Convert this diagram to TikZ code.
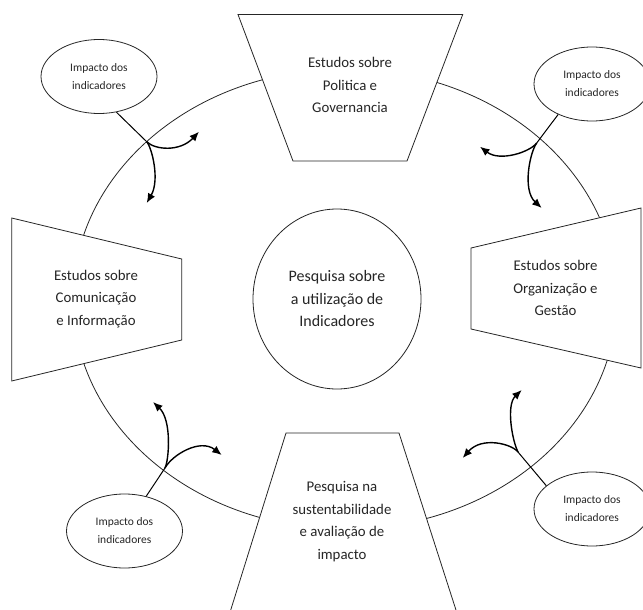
\documentclass[tikz,border=0pt]{standalone}
\usepackage{fontspec}
\setmainfont{Carlito}
\usetikzlibrary{shapes.geometric,arrows.meta}
\begin{document}
\begin{tikzpicture}[x=1pt,y=-1pt,
  outline/.style={draw=black!85, line width=0.8pt},
  block/.style={outline, fill=white, line join=miter},
  caption/.style={align=center, font=\fontsize{14.8}{22.5}\selectfont, text=black!85},
  hub/.style={outline, ellipse, fill=white, minimum width=168pt, minimum height=180pt,
    inner sep=0pt, align=center, font=\fontsize{16}{22.5}\selectfont, text=black!85},
  impact/.style={outline, ellipse, fill=white, minimum width=116pt, minimum height=74pt,
    inner sep=0pt, align=center, font=\fontsize{11.5}{18}\selectfont, text=black!85},
  stem/.style={draw=black, line width=1pt},
  flow/.style={draw=black, line width=1.4pt, -{Latex[length=9.5pt,width=8pt]}},
]
\useasboundingbox (0,0) rectangle (643,610);
\begin{scope}
  \clip (0,0) rectangle (643,610);
  % outer ring
  \draw[outline] (345,299) ellipse [x radius=272pt, y radius=230pt];
  % four trapezoid blocks
  \draw[block] (238,14.5) -- (462.7,14.5) -- (407,161) -- (293,161) -- cycle;
  \draw[block] (11.7,218) -- (181.7,259) -- (181.7,340) -- (11.7,381) -- cycle;
  \draw[block] (471,248) -- (641,208) -- (641,368) -- (471,329) -- cycle;
  \draw[block] (286,433) -- (399,433) -- (459.2,620) -- (227.6,620) -- cycle;
\end{scope}

\node[caption] (politica) at (350,85) {Estudos sobre\\Politica e\\Governancia};
\node[caption] (comunicacao) at (96,299) {Estudos sobre\\Comunicação\\e Informação};
\node[caption] (organizacao) at (555.5,288) {Estudos sobre\\Organização e\\Gestão};
\node[caption] (sustentabilidade) at (342,521.5) {Pesquisa na\\sustentabilidade\\e avaliação de\\impacto};

\node[hub] (centro) at (337,299) {Pesquisa sobre\\a utilização de\\Indicadores};

% impact bubbles
\begin{scope}
  \clip (0,0) rectangle (643,610);
  \node[impact] (imptl) at (99,76.5) {Impacto dos\\indicadores};
  \node[impact] (imptr) at (592,84) {Impacto dos\\indicadores};
  \node[impact] (impbl) at (124.5,531) {Impacto dos\\indicadores};
  \node[impact] (impbr) at (592,509) {Impacto dos\\indicadores};
\end{scope}

% branch points and arrow ends
\coordinate (btl) at (146.7,141.7);
\coordinate (btr) at (536.7,143);
\coordinate (bbl) at (165,468);
\coordinate (bbr) at (518,452);
\coordinate (tl1) at (199,131.7);
\coordinate (tl2) at (146.7,203);
\coordinate (tr1) at (480,146.7);
\coordinate (tr2) at (541.7,208);
\coordinate (bl1) at (153,402);
\coordinate (bl2) at (221.7,455);
\coordinate (br1) at (521.7,390);
\coordinate (br2) at (462.7,458);

% stems
\draw[stem] (imptl.-64) -- (btl);
\draw[stem] (imptr.-138) -- (btr);
\draw[stem] (impbl.58) -- (bbl);
\draw[stem] (impbr.153) -- (bbr);

% forked arrows
\draw[flow] (btl) .. controls (155,150) and (180,152) .. (tl1);
\draw[flow] (btl) .. controls (152,148) and (160,180) .. (tl2);
\draw[flow] (btr) .. controls (530,152) and (500,162) .. (tr1);
\draw[flow] (btr) .. controls (530,152) and (522,190) .. (tr2);
\draw[flow] (bbl) .. controls (169,460) and (172,420) .. (bl1);
\draw[flow] (bbl) .. controls (172,455) and (200,438) .. (bl2);
\draw[flow] (bbr) .. controls (512,440) and (506,405) .. (br1);
\draw[flow] (bbr) .. controls (512,444) and (482,436) .. (br2);
\end{tikzpicture}
\end{document}
